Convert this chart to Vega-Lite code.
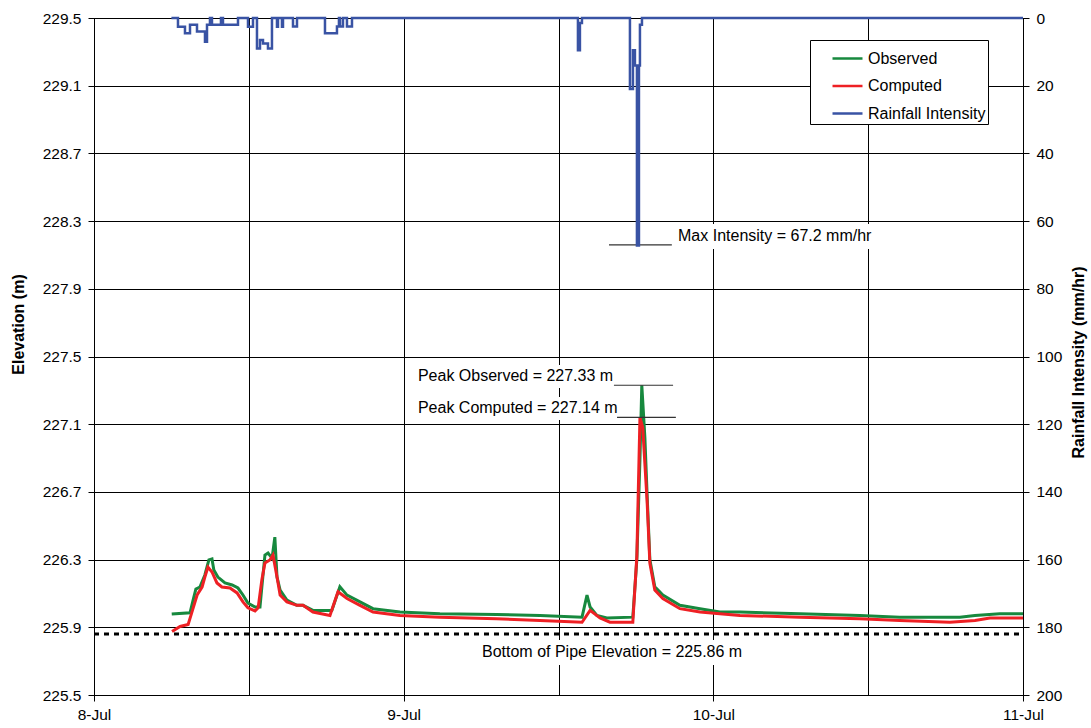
{
  "$schema": "https://vega.github.io/schema/vega-lite/v6.json",
  "width": 929,
  "height": 677,
  "autosize": {"type": "none"},
  "padding": {"left": 94, "top": 18, "right": 68, "bottom": 33},
  "background": "white",
  "config": {
    "font": "Liberation Sans",
    "view": {"stroke": "black", "strokeWidth": 1},
    "axis": {
      "domainColor": "black",
      "tickColor": "black",
      "gridColor": "black",
      "gridWidth": 1,
      "gridOpacity": 1,
      "labelColor": "black",
      "titleColor": "black",
      "labelFont": "Liberation Sans",
      "titleFont": "Liberation Sans",
      "labelFontSize": 15.5,
      "tickSize": 6
    }
  },
  "datasets": {
    "elev": [
      {"t": 8.251, "v": 225.978, "s": "Observed"},
      {"t": 8.310, "v": 225.986, "s": "Observed"},
      {"t": 8.320, "v": 226.061, "s": "Observed"},
      {"t": 8.329, "v": 226.126, "s": "Observed"},
      {"t": 8.342, "v": 226.138, "s": "Observed"},
      {"t": 8.358, "v": 226.209, "s": "Observed"},
      {"t": 8.371, "v": 226.298, "s": "Observed"},
      {"t": 8.381, "v": 226.304, "s": "Observed"},
      {"t": 8.387, "v": 226.239, "s": "Observed"},
      {"t": 8.400, "v": 226.197, "s": "Observed"},
      {"t": 8.423, "v": 226.162, "s": "Observed"},
      {"t": 8.446, "v": 226.150, "s": "Observed"},
      {"t": 8.465, "v": 226.132, "s": "Observed"},
      {"t": 8.481, "v": 226.091, "s": "Observed"},
      {"t": 8.497, "v": 226.043, "s": "Observed"},
      {"t": 8.520, "v": 226.020, "s": "Observed"},
      {"t": 8.536, "v": 226.020, "s": "Observed"},
      {"t": 8.542, "v": 226.138, "s": "Observed"},
      {"t": 8.552, "v": 226.327, "s": "Observed"},
      {"t": 8.562, "v": 226.339, "s": "Observed"},
      {"t": 8.575, "v": 226.309, "s": "Observed"},
      {"t": 8.584, "v": 226.433, "s": "Observed"},
      {"t": 8.591, "v": 226.197, "s": "Observed"},
      {"t": 8.601, "v": 226.120, "s": "Observed"},
      {"t": 8.623, "v": 226.061, "s": "Observed"},
      {"t": 8.655, "v": 226.030, "s": "Observed"},
      {"t": 8.675, "v": 226.030, "s": "Observed"},
      {"t": 8.707, "v": 226.000, "s": "Observed"},
      {"t": 8.768, "v": 226.000, "s": "Observed"},
      {"t": 8.794, "v": 226.140, "s": "Observed"},
      {"t": 8.817, "v": 226.090, "s": "Observed"},
      {"t": 8.859, "v": 226.050, "s": "Observed"},
      {"t": 8.901, "v": 226.010, "s": "Observed"},
      {"t": 8.988, "v": 225.990, "s": "Observed"},
      {"t": 9.117, "v": 225.980, "s": "Observed"},
      {"t": 9.300, "v": 225.975, "s": "Observed"},
      {"t": 9.440, "v": 225.970, "s": "Observed"},
      {"t": 9.576, "v": 225.960, "s": "Observed"},
      {"t": 9.592, "v": 226.090, "s": "Observed"},
      {"t": 9.602, "v": 226.020, "s": "Observed"},
      {"t": 9.624, "v": 225.970, "s": "Observed"},
      {"t": 9.656, "v": 225.955, "s": "Observed"},
      {"t": 9.740, "v": 225.960, "s": "Observed"},
      {"t": 9.753, "v": 226.300, "s": "Observed"},
      {"t": 9.763, "v": 226.890, "s": "Observed"},
      {"t": 9.769, "v": 227.330, "s": "Observed"},
      {"t": 9.779, "v": 227.020, "s": "Observed"},
      {"t": 9.786, "v": 226.690, "s": "Observed"},
      {"t": 9.795, "v": 226.300, "s": "Observed"},
      {"t": 9.811, "v": 226.140, "s": "Observed"},
      {"t": 9.837, "v": 226.090, "s": "Observed"},
      {"t": 9.892, "v": 226.030, "s": "Observed"},
      {"t": 9.957, "v": 226.010, "s": "Observed"},
      {"t": 10.021, "v": 225.990, "s": "Observed"},
      {"t": 10.086, "v": 225.990, "s": "Observed"},
      {"t": 10.280, "v": 225.980, "s": "Observed"},
      {"t": 10.473, "v": 225.970, "s": "Observed"},
      {"t": 10.602, "v": 225.960, "s": "Observed"},
      {"t": 10.796, "v": 225.960, "s": "Observed"},
      {"t": 10.845, "v": 225.970, "s": "Observed"},
      {"t": 10.925, "v": 225.980, "s": "Observed"},
      {"t": 11.0, "v": 225.980, "s": "Observed"},
      {"t": 8.252, "v": 225.875, "s": "Computed"},
      {"t": 8.278, "v": 225.905, "s": "Computed"},
      {"t": 8.304, "v": 225.917, "s": "Computed"},
      {"t": 8.316, "v": 225.988, "s": "Computed"},
      {"t": 8.333, "v": 226.091, "s": "Computed"},
      {"t": 8.349, "v": 226.138, "s": "Computed"},
      {"t": 8.358, "v": 226.197, "s": "Computed"},
      {"t": 8.368, "v": 226.256, "s": "Computed"},
      {"t": 8.381, "v": 226.227, "s": "Computed"},
      {"t": 8.397, "v": 226.162, "s": "Computed"},
      {"t": 8.413, "v": 226.138, "s": "Computed"},
      {"t": 8.439, "v": 226.132, "s": "Computed"},
      {"t": 8.462, "v": 226.103, "s": "Computed"},
      {"t": 8.481, "v": 226.050, "s": "Computed"},
      {"t": 8.497, "v": 226.015, "s": "Computed"},
      {"t": 8.520, "v": 225.997, "s": "Computed"},
      {"t": 8.530, "v": 226.015, "s": "Computed"},
      {"t": 8.542, "v": 226.180, "s": "Computed"},
      {"t": 8.552, "v": 226.280, "s": "Computed"},
      {"t": 8.568, "v": 226.298, "s": "Computed"},
      {"t": 8.578, "v": 226.327, "s": "Computed"},
      {"t": 8.591, "v": 226.197, "s": "Computed"},
      {"t": 8.601, "v": 226.091, "s": "Computed"},
      {"t": 8.623, "v": 226.050, "s": "Computed"},
      {"t": 8.655, "v": 226.030, "s": "Computed"},
      {"t": 8.675, "v": 226.030, "s": "Computed"},
      {"t": 8.707, "v": 225.990, "s": "Computed"},
      {"t": 8.762, "v": 225.970, "s": "Computed"},
      {"t": 8.788, "v": 226.110, "s": "Computed"},
      {"t": 8.817, "v": 226.070, "s": "Computed"},
      {"t": 8.859, "v": 226.030, "s": "Computed"},
      {"t": 8.901, "v": 225.990, "s": "Computed"},
      {"t": 8.988, "v": 225.970, "s": "Computed"},
      {"t": 9.117, "v": 225.960, "s": "Computed"},
      {"t": 9.300, "v": 225.950, "s": "Computed"},
      {"t": 9.440, "v": 225.940, "s": "Computed"},
      {"t": 9.576, "v": 225.930, "s": "Computed"},
      {"t": 9.602, "v": 226.000, "s": "Computed"},
      {"t": 9.634, "v": 225.955, "s": "Computed"},
      {"t": 9.666, "v": 225.930, "s": "Computed"},
      {"t": 9.740, "v": 225.930, "s": "Computed"},
      {"t": 9.753, "v": 226.320, "s": "Computed"},
      {"t": 9.763, "v": 227.140, "s": "Computed"},
      {"t": 9.772, "v": 227.080, "s": "Computed"},
      {"t": 9.786, "v": 226.650, "s": "Computed"},
      {"t": 9.795, "v": 226.280, "s": "Computed"},
      {"t": 9.811, "v": 226.120, "s": "Computed"},
      {"t": 9.837, "v": 226.070, "s": "Computed"},
      {"t": 9.892, "v": 226.010, "s": "Computed"},
      {"t": 9.957, "v": 225.990, "s": "Computed"},
      {"t": 10.021, "v": 225.980, "s": "Computed"},
      {"t": 10.086, "v": 225.970, "s": "Computed"},
      {"t": 10.280, "v": 225.960, "s": "Computed"},
      {"t": 10.473, "v": 225.950, "s": "Computed"},
      {"t": 10.602, "v": 225.940, "s": "Computed"},
      {"t": 10.764, "v": 225.930, "s": "Computed"},
      {"t": 10.845, "v": 225.940, "s": "Computed"},
      {"t": 10.893, "v": 225.955, "s": "Computed"},
      {"t": 11.0, "v": 225.955, "s": "Computed"}
    ],
    "rain": [
      {"t": 8.250, "r": 0, "s": "Rainfall Intensity"},
      {"t": 8.2712, "r": 2.6, "s": "Rainfall Intensity"},
      {"t": 8.2938, "r": 4.5, "s": "Rainfall Intensity"},
      {"t": 8.3100, "r": 2, "s": "Rainfall Intensity"},
      {"t": 8.3326, "r": 4, "s": "Rainfall Intensity"},
      {"t": 8.3584, "r": 7, "s": "Rainfall Intensity"},
      {"t": 8.3649, "r": 2, "s": "Rainfall Intensity"},
      {"t": 8.3745, "r": 0, "s": "Rainfall Intensity"},
      {"t": 8.3810, "r": 2, "s": "Rainfall Intensity"},
      {"t": 8.4100, "r": 0, "s": "Rainfall Intensity"},
      {"t": 8.4165, "r": 2, "s": "Rainfall Intensity"},
      {"t": 8.4650, "r": 0, "s": "Rainfall Intensity"},
      {"t": 8.4973, "r": 2.6, "s": "Rainfall Intensity"},
      {"t": 8.5134, "r": 0, "s": "Rainfall Intensity"},
      {"t": 8.5263, "r": 9, "s": "Rainfall Intensity"},
      {"t": 8.5360, "r": 6.5, "s": "Rainfall Intensity"},
      {"t": 8.5457, "r": 7.5, "s": "Rainfall Intensity"},
      {"t": 8.5618, "r": 9, "s": "Rainfall Intensity"},
      {"t": 8.5747, "r": 0, "s": "Rainfall Intensity"},
      {"t": 8.5909, "r": 2.6, "s": "Rainfall Intensity"},
      {"t": 8.5941, "r": 0, "s": "Rainfall Intensity"},
      {"t": 8.6070, "r": 2.6, "s": "Rainfall Intensity"},
      {"t": 8.6103, "r": 0, "s": "Rainfall Intensity"},
      {"t": 8.6426, "r": 2.5, "s": "Rainfall Intensity"},
      {"t": 8.6555, "r": 0, "s": "Rainfall Intensity"},
      {"t": 8.7459, "r": 4.5, "s": "Rainfall Intensity"},
      {"t": 8.7846, "r": 2.5, "s": "Rainfall Intensity"},
      {"t": 8.7910, "r": 0, "s": "Rainfall Intensity"},
      {"t": 8.7943, "r": 2.5, "s": "Rainfall Intensity"},
      {"t": 8.8040, "r": 0, "s": "Rainfall Intensity"},
      {"t": 8.8169, "r": 2.5, "s": "Rainfall Intensity"},
      {"t": 8.8331, "r": 0, "s": "Rainfall Intensity"},
      {"t": 9.5628, "r": 9.5, "s": "Rainfall Intensity"},
      {"t": 9.5692, "r": 1.5, "s": "Rainfall Intensity"},
      {"t": 9.5757, "r": 0, "s": "Rainfall Intensity"},
      {"t": 9.7307, "r": 21, "s": "Rainfall Intensity"},
      {"t": 9.7404, "r": 9.5, "s": "Rainfall Intensity"},
      {"t": 9.7468, "r": 14, "s": "Rainfall Intensity"},
      {"t": 9.7533, "r": 67.2, "s": "Rainfall Intensity"},
      {"t": 9.7598, "r": 14, "s": "Rainfall Intensity"},
      {"t": 9.7630, "r": 2, "s": "Rainfall Intensity"},
      {"t": 9.7695, "r": 0, "s": "Rainfall Intensity"},
      {"t": 11.0, "r": 0, "s": "Rainfall Intensity"}
    ],
    "boxes": [
      {"t": 9.876, "t2": 10.538, "v": 228.283, "v2": 228.135},
      {"t": 9.036, "t2": 9.679, "v": 227.45, "v2": 227.314},
      {"t": 9.036, "t2": 9.679, "v": 227.26, "v2": 227.125},
      {"t": 9.243, "t2": 10.102, "v": 225.825, "v2": 225.677}
    ],
    "segs": [
      {"t": 9.663, "t2": 9.866, "v": 228.159},
      {"t": 9.679, "t2": 9.870, "v": 227.33},
      {"t": 9.689, "t2": 9.879, "v": 227.14}
    ],
    "notes": [
      {"t": 9.886, "v": 228.212, "label": "Max Intensity = 67.2 mm/hr"},
      {"t": 9.046, "v": 227.385, "label": "Peak Observed = 227.33 m"},
      {"t": 9.046, "v": 227.196, "label": "Peak Computed = 227.14 m"},
      {"t": 9.253, "v": 225.754, "label": "Bottom of Pipe Elevation = 225.86 m"}
    ],
    "pipe": [{"t": 8, "t2": 11, "v": 225.86}]
  },
  "encoding": {
    "x": {
      "field": "t", "type": "quantitative",
      "scale": {"domain": [8, 11], "nice": false, "zero": false},
      "axis": {
        "title": null,
        "values": [8, 8.5, 9, 9.5, 10, 10.5, 11],
        "labelExpr": "datum.value % 1 === 0 ? format(datum.value, 'd') + '-Jul' : ''",
        "grid": true,
        "labelFlush": false,
        "labelPadding": 6,
        "tickOpacity": {"condition": {"test": "datum.value % 1 !== 0", "value": 0}, "value": 1}
      }
    }
  },
  "layer": [
    {
      "encoding": {
        "y": {
          "field": "v", "type": "quantitative",
          "scale": {"domain": [225.5, 229.5], "nice": false, "zero": false},
          "axis": {
            "title": "Elevation (m)",
            "values": [225.5, 225.9, 226.3, 226.7, 227.1, 227.5, 227.9, 228.3, 228.7, 229.1, 229.5],
            "format": ".1f",
            "grid": true,
            "labelPadding": 7,
            "titleFontSize": 16,
            "titleFontWeight": "bold",
            "titleAngle": 270,
            "titleX": -76,
            "titleY": 306,
            "titleAlign": "center",
            "titleBaseline": "middle"
          }
        }
      },
      "layer": [
        {
          "data": {"name": "boxes"},
          "mark": {"type": "rect", "fill": "white"},
          "encoding": {
            "x2": {"field": "t2"},
            "y2": {"field": "v2"}
          }
        },
        {
          "data": {"name": "pipe"},
          "mark": {"type": "rule", "color": "black", "strokeWidth": 3, "strokeDash": [5, 5]},
          "encoding": {
            "x2": {"field": "t2"}
          }
        },
        {
          "data": {"name": "elev"},
          "mark": {"type": "line", "strokeWidth": 3},
          "encoding": {
            "color": {
              "field": "s", "type": "nominal",
              "scale": {"domain": ["Observed", "Computed", "Rainfall Intensity"], "range": ["#17893e", "#ee2024", "#3953a4"]},
              "legend": {
                "title": null,
                "orient": "none",
                "legendX": 716,
                "legendY": 22,
                "strokeColor": "black",
                "fillColor": "white",
                "padding": 2,
                "symbolType": "stroke",
                "symbolSize": 900,
                "symbolStrokeWidth": 2.5,
                "symbolOffset": 19,
                "labelFontSize": 16,
                "labelFont": "Liberation Sans",
                "labelColor": "black",
                "labelOffset": 4,
                "labelExpr": "datum.label + '\u00a0\u00a0\u00a0\u00a0'",
                "rowPadding": 2.5
              }
            },
            "order": {"field": "t", "type": "quantitative"}
          }
        },
        {
          "data": {"name": "segs"},
          "mark": {"type": "rule", "color": "#333333", "strokeWidth": 1.2},
          "encoding": {
            "x2": {"field": "t2"}
          }
        },
        {
          "data": {"name": "notes"},
          "mark": {"type": "text", "align": "left", "baseline": "middle", "fontSize": 16, "font": "Liberation Sans", "color": "black"},
          "encoding": {
            "text": {"field": "label"}
          }
        }
      ]
    },
    {
      "data": {"name": "rain"},
      "mark": {"type": "line", "strokeWidth": 2.5, "interpolate": "step-after"},
      "encoding": {
        "y": {
          "field": "r", "type": "quantitative",
          "scale": {"domain": [0, 200], "reverse": true, "nice": false},
          "axis": {
            "orient": "right",
            "title": "Rainfall Intensity (mm/hr)",
            "values": [0, 20, 40, 60, 80, 100, 120, 140, 160, 180, 200],
            "grid": false,
            "labelPadding": 7,
            "titleFontSize": 16,
            "titleFontWeight": "bold",
            "titleAngle": 270,
            "titleX": 55,
            "titleY": 344,
            "titleAlign": "center",
            "titleBaseline": "middle"
          }
        },
        "color": {
          "field": "s", "type": "nominal",
          "scale": {"domain": ["Observed", "Computed", "Rainfall Intensity"], "range": ["#17893e", "#ee2024", "#3953a4"]},
          "legend": null
        },
        "order": {"field": "t", "type": "quantitative"}
      }
    }
  ],
  "resolve": {"scale": {"y": "independent"}}
}
